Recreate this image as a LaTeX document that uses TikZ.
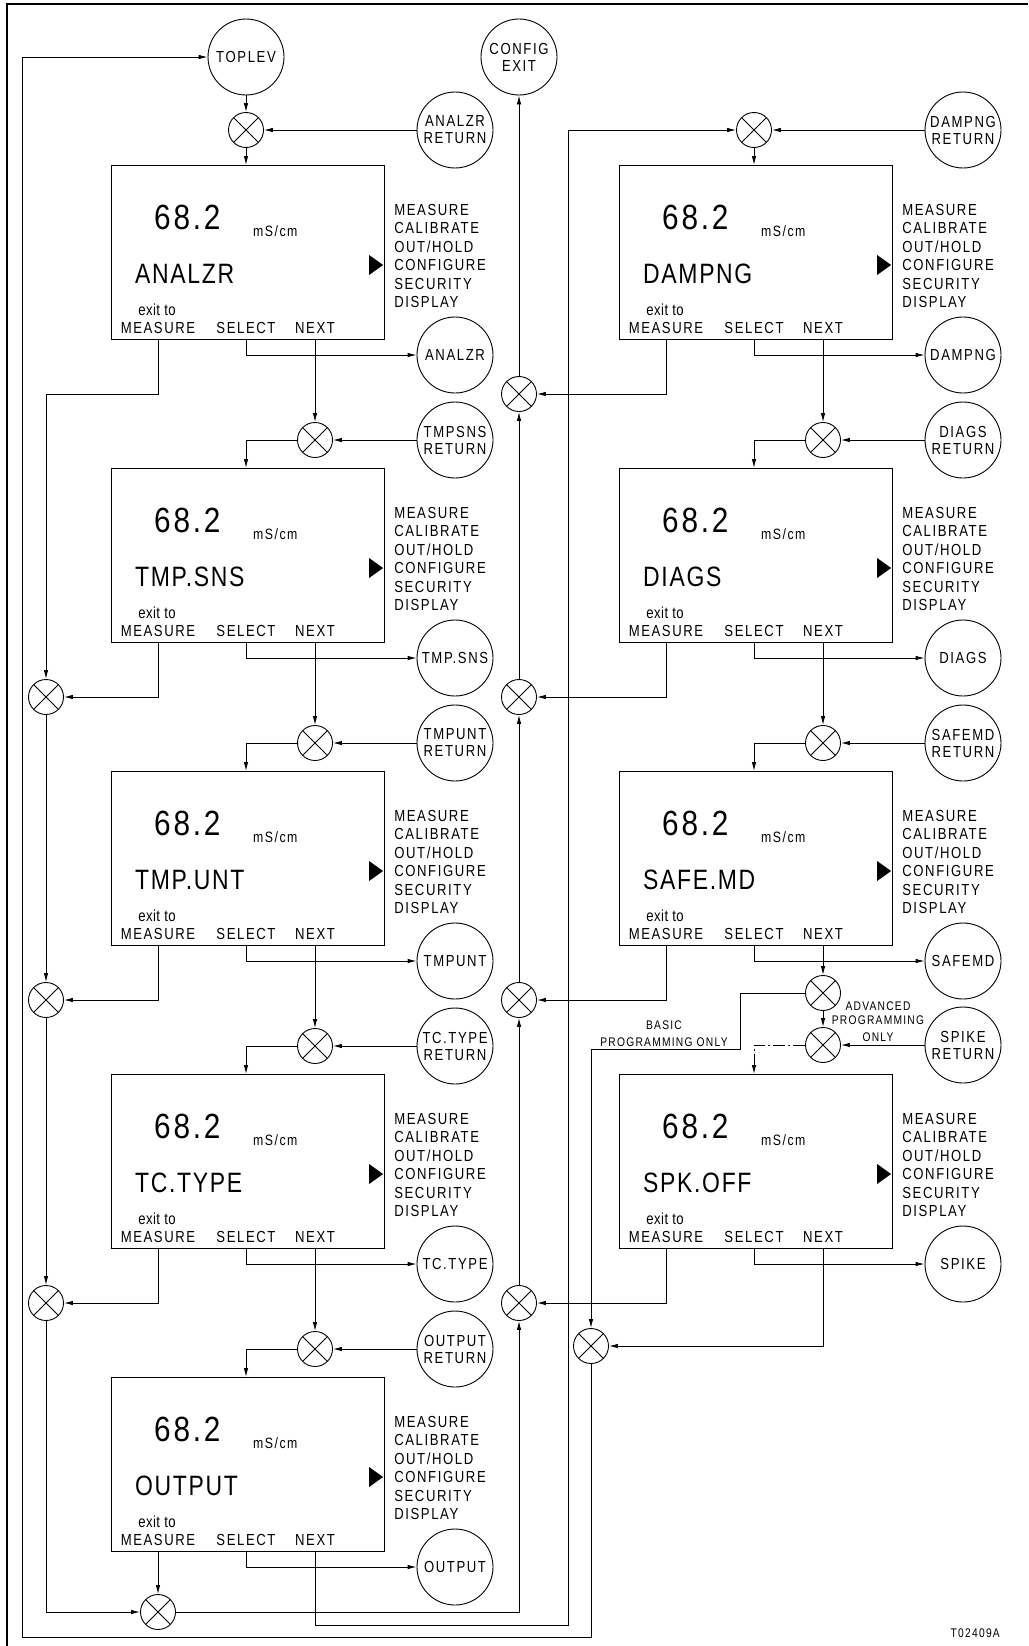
\documentclass[tikz,border=0pt]{standalone}
\usepackage{fontspec}
\usetikzlibrary{calc,arrows.meta}
\setmainfont{Liberation Sans}
\newfontfamily\lblfont[FakeStretch=0.82,LetterSpace=10]{Liberation Sans}
\newfontfamily\namefont[FakeStretch=0.82,LetterSpace=6]{Liberation Sans}
\newfontfamily\numfont[FakeStretch=0.85,LetterSpace=8]{Liberation Sans}
\newfontfamily\exitfont[FakeStretch=0.82,LetterSpace=3]{Liberation Sans}

\tikzset{
  arr/.style={line width=0.9pt,-{Latex[length=9pt,width=4.5pt]}},
  wire/.style={line width=0.9pt},
  screen/.style={draw, line width=1.1pt, minimum width=273pt, minimum height=174pt, inner sep=0pt},
  bubble/.style={circle, draw, line width=0.9pt, minimum size=76pt, inner sep=0pt, align=center,
    font=\lblfont\fontsize{16}{17}\selectfont},
  xjoin/.style={circle, draw, line width=0.9pt, minimum size=35pt, inner sep=0pt,
    path picture={\draw[line width=0.8pt]
      (path picture bounding box.north west) -- (path picture bounding box.south east)
      (path picture bounding box.north east) -- (path picture bounding box.south west);}},
  small/.style={inner sep=0pt, font=\lblfont\fontsize{16}{18}\selectfont},
  tiny/.style={inner sep=0pt, align=center, font=\lblfont\fontsize{12.5}{15}\selectfont},
  numtxt/.style={inner sep=0pt, font=\numfont\fontsize{35}{40}\selectfont},
  unittxt/.style={inner sep=0pt, font=\lblfont\fontsize{15}{17}\selectfont},
  nametxt/.style={inner sep=0pt, font=\namefont\fontsize{28}{32}\selectfont},
  exittxt/.style={inner sep=0pt, font=\exitfont\fontsize{16}{18}\selectfont},
}

% one display screen: name, left x, top y, menu title
\newcommand{\Screen}[4]{%
  \node[screen, anchor=north west] (#1) at (#2,#3) {};
  \node[numtxt, anchor=base west] at ($(#1.north west)+(43,64)$) {68.2};
  \node[unittxt, anchor=base west] at ($(#1.north west)+(142,71)$) {mS/cm};
  \node[nametxt, anchor=base west] at ($(#1.north west)+(24,118)$) {#4};
  \node[exittxt, anchor=base] at ($(#1.north west)+(46,150)$) {exit to};
  \node[small, anchor=base] at ($(#1.north west)+(47,168)$) {MEASURE};
  \node[small, anchor=base] at ($(#1.north west)+(135,168)$) {SELECT};
  \node[small, anchor=base] at ($(#1.north west)+(204,168)$) {NEXT};
  \foreach \t [count=\i from 0] in {MEASURE,CALIBRATE,{OUT/HOLD},CONFIGURE,SECURITY,DISPLAY}
    \node[small, anchor=base west] at ($(#1.north east)+(9,{50+18.5*\i})$) {\t};
  \fill ($(#1.north east)+(-2,100)$) -- ++(-14,-10) -- ++(0,20) -- cycle;
  \coordinate (#1m) at ($(#1.south west)+(47,0)$);
  \coordinate (#1s) at ($(#1.south west)+(135,0)$);
  \coordinate (#1n) at ($(#1.south west)+(204,0)$);
  \coordinate (#1t) at ($(#1.north west)+(135,0)$);
}

\begin{document}
\begin{tikzpicture}[x=1pt,y=-1pt]
\useasboundingbox (0,0) rectangle (1028,1646);

% frame
\draw[line width=1.2pt] (7,1646) -- (7,4) -- (1028,4);

% ---------- screens ----------
\Screen{b1}{111}{165}{ANALZR}
\Screen{b2}{111}{468}{TMP.SNS}
\Screen{b3}{111}{771}{TMP.UNT}
\Screen{b4}{111}{1074}{TC.TYPE}
\Screen{b5}{111}{1377}{OUTPUT}
\Screen{d1}{619}{165}{DAMPNG}
\Screen{d2}{619}{468}{DIAGS}
\Screen{d3}{619}{771}{SAFE.MD}
\Screen{d4}{619}{1074}{SPK.OFF}

% ---------- terminals ----------
\node[bubble] (toplev) at (246,57) {TOPLEV};
\node[bubble] (cfg) at (519,57) {CONFIG\\EXIT};

\node[bubble] (r1) at (455,130) {ANALZR\\RETURN};
\node[bubble] (s1) at (455,355) {ANALZR};
\node[bubble] (r2) at (455,440) {TMPSNS\\RETURN};
\node[bubble] (s2) at (455,658) {TMP.SNS};
\node[bubble] (r3) at (455,743) {TMPUNT\\RETURN};
\node[bubble] (s3) at (455,961) {TMPUNT};
\node[bubble] (r4) at (455,1046) {TC.TYPE\\RETURN};
\node[bubble] (s4) at (455,1264) {TC.TYPE};
\node[bubble] (r5) at (455,1349) {OUTPUT\\RETURN};
\node[bubble] (s5) at (455,1567) {OUTPUT};

\node[bubble] (q1) at (963,130) {DAMPNG\\RETURN};
\node[bubble] (t1) at (963,355) {DAMPNG};
\node[bubble] (q2) at (963,440) {DIAGS\\RETURN};
\node[bubble] (t2) at (963,658) {DIAGS};
\node[bubble] (q3) at (963,743) {SAFEMD\\RETURN};
\node[bubble] (t3) at (963,961) {SAFEMD};
\node[bubble] (q4) at (963,1045) {SPIKE\\RETURN};
\node[bubble] (t4) at (963,1264) {SPIKE};

% ---------- junctions ----------
\node[xjoin] (jt) at (246,130) {};
\node[xjoin] (j2) at (315,440) {};
\node[xjoin] (j3) at (315,743) {};
\node[xjoin] (j4) at (315,1046) {};
\node[xjoin] (j5) at (315,1349) {};

\node[xjoin] (jd) at (754,130) {};
\node[xjoin] (k2) at (823,440) {};
\node[xjoin] (k3) at (823,743) {};
\node[xjoin] (kA) at (823,993) {};
\node[xjoin] (kB) at (823,1045) {};
\node[xjoin] (kC) at (591,1346) {};

\node[xjoin] (l2) at (46,697) {};
\node[xjoin] (l3) at (46,1000) {};
\node[xjoin] (l4) at (46,1303) {};
\node[xjoin] (lb) at (158,1612) {};

\node[xjoin] (c1) at (519,394) {};
\node[xjoin] (c2) at (519,697) {};
\node[xjoin] (c3) at (519,1000) {};
\node[xjoin] (c4) at (519,1303) {};

% bends
\coordinate (l1) at (46,394);
\coordinate (nx) at (568,1625);
\coordinate (bp) at (740,1049);
\coordinate (lp) at (22,1637);

% ---------- left column ----------
\draw[arr] (toplev) -- (jt);
\draw[arr] (r1) -- (jt);
\draw[arr] (jt) -- (b1t);
\draw[arr] (b1s) |- (s1);
\draw[arr] (b1n) -- (j2);
\draw[arr] (r2) -- (j2);
\draw[arr] (j2) -| (b2t);
\draw[arr] (b2s) |- (s2);
\draw[arr] (b2n) -- (j3);
\draw[arr] (r3) -- (j3);
\draw[arr] (j3) -| (b3t);
\draw[arr] (b3s) |- (s3);
\draw[arr] (b3n) -- (j4);
\draw[arr] (r4) -- (j4);
\draw[arr] (j4) -| (b4t);
\draw[arr] (b4s) |- (s4);
\draw[arr] (b4n) -- (j5);
\draw[arr] (r5) -- (j5);
\draw[arr] (j5) -| (b5t);
\draw[arr] (b5s) |- (s5);

% exit-to-measure chain
\draw[arr] (b1m) |- (l1) -- (l2);
\draw[arr] (b2m) |- (l2);
\draw[arr] (b3m) |- (l3);
\draw[arr] (b4m) |- (l4);
\draw[arr] (l2) -- (l3);
\draw[arr] (l3) -- (l4);
\draw[arr] (l4) |- (lb);
\draw[arr] (b5m) -- (lb);

% centre chain up to CONFIG EXIT
\draw[arr] (lb) -| (c4);
\draw[arr] (c4) -- (c3);
\draw[arr] (c3) -- (c2);
\draw[arr] (c2) -- (c1);
\draw[arr] (c1) -- (cfg);
\draw[arr] (d1m) |- (c1);
\draw[arr] (d2m) |- (c2);
\draw[arr] (d3m) |- (c3);
\draw[arr] (d4m) |- (c4);

% OUTPUT next -> DAMPNG
\draw[arr] (b5n) |- (nx) |- (jd);

% ---------- right column ----------
\draw[arr] (q1) -- (jd);
\draw[arr] (jd) -- (d1t);
\draw[arr] (d1s) |- (t1);
\draw[arr] (d1n) -- (k2);
\draw[arr] (q2) -- (k2);
\draw[arr] (k2) -| (d2t);
\draw[arr] (d2s) |- (t2);
\draw[arr] (d2n) -- (k3);
\draw[arr] (q3) -- (k3);
\draw[arr] (k3) -| (d3t);
\draw[arr] (d3s) |- (t3);
\draw[arr] (d3n) -- (kA);
\draw[arr] (kA) -- (kB);
\draw[arr] (q4) -- (kB);
\draw[arr, dash pattern=on 12pt off 3pt on 2pt off 3pt] (kB) -| (d4t);
\draw[arr] (kA) -| (bp) -| (kC);
\draw[arr] (d4s) |- (t4);
\draw[arr] (d4n) |- (kC);

% loop back to TOPLEV
\draw[arr] (kC) |- (lp) |- (toplev);

% ---------- notes ----------
\node[tiny, anchor=base] at (664,1029) {BASIC};
\node[tiny, anchor=base] at (664,1046) {PROGRAMMING ONLY};
\node[tiny, anchor=base] at (878,1010) {ADVANCED};
\node[tiny, anchor=base] at (878,1024) {PROGRAMMING};
\node[tiny, anchor=base] at (878,1041) {ONLY};
\node[tiny, anchor=base east] at (1000,1637) {T02409A};
\end{tikzpicture}
\end{document}
